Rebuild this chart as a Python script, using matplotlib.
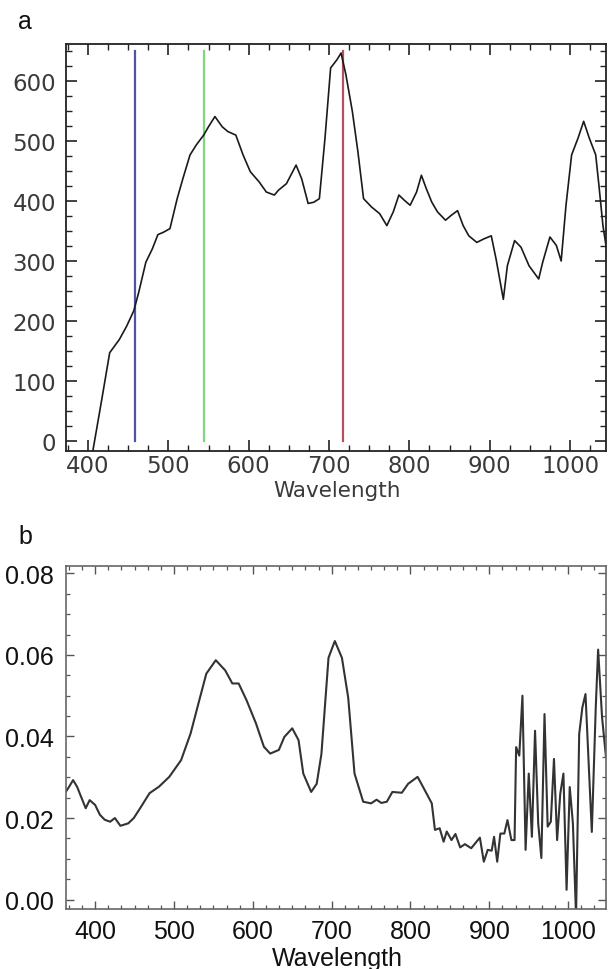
import numpy as np
import matplotlib
matplotlib.use("Agg")
import matplotlib.pyplot as plt
from matplotlib.ticker import MultipleLocator

# panel a: coarse spectrum with three band markers
wl_a = [406, 417, 427, 439, 448, 457, 463, 472, 480, 487, 494, 502, 511, 518, 527, 535,
        544, 550, 558, 567, 574, 584, 593, 602, 613, 622, 632, 637, 647, 659, 666, 674,
        681, 688, 695, 702, 710, 715, 721, 729, 736, 743, 753, 763, 772, 780, 787, 794,
        801, 809, 815, 821, 828, 835, 845, 852, 860, 867, 874, 884, 893, 902, 908, 917,
        922, 931, 939, 949, 961, 966, 975, 983, 989, 995, 1002, 1010, 1017, 1024, 1032,
        1036, 1041, 1046]
val_a = [-17, 68, 147, 169, 191, 217, 247, 298, 320, 344, 348, 354, 404, 437, 477, 494,
         510, 524, 541, 524, 516, 510, 477, 449, 432, 415, 410, 418, 429, 460, 437, 396,
         398, 404, 505, 622, 636, 647, 611, 550, 482, 404, 390, 379, 359, 382, 410, 401,
         393, 415, 443, 421, 398, 382, 368, 376, 384, 359, 342, 331, 337, 342, 303, 236,
         292, 334, 323, 292, 270, 298, 340, 326, 300, 393, 477, 505, 533, 505, 477,
         426, 359, 315]
band_wl = [458, 545, 717]
band_colors = ["#5252a3", "#7fd67f", "#b5505f"]
band_top = 650

# panel b: reflectance-like spectrum
wl_b = [363, 367, 372, 377, 383, 388, 393, 400, 406, 412, 419, 425, 432, 442, 449, 457,
        469, 481, 494, 509, 521, 531, 541, 553, 565, 574, 582, 592, 604, 614, 622, 633,
        640, 650, 658, 664, 674, 681, 687, 696, 704, 713, 721, 729, 740, 750, 757, 763,
        770, 777, 789, 797, 809, 816, 827, 831, 837, 842, 846, 852, 857, 863, 869, 877,
        888, 893, 898, 903, 906, 910, 914, 919, 923, 928, 932, 934, 938, 942, 946, 950,
        954, 958, 962, 966, 970, 974, 978, 982, 986, 990, 994, 998, 1002, 1006, 1010,
        1014, 1018, 1022, 1030, 1035, 1038, 1043, 1048]
val_b = [0.0265, 0.0277, 0.0293, 0.0277, 0.0248, 0.0224, 0.0244, 0.0232, 0.0208, 0.0196,
         0.0191, 0.0200, 0.0181, 0.0187, 0.0200, 0.0224, 0.0261, 0.0277, 0.0301, 0.0342,
         0.0407, 0.0481, 0.0554, 0.0587, 0.0562, 0.0530, 0.0530, 0.0489, 0.0432, 0.0375,
         0.0358, 0.0367, 0.0399, 0.0420, 0.0391, 0.0309, 0.0264, 0.0284, 0.0357, 0.0593,
         0.0634, 0.0593, 0.0495, 0.0309, 0.0240, 0.0236, 0.0245, 0.0237, 0.0240, 0.0264,
         0.0262, 0.0284, 0.0301, 0.0276, 0.0236, 0.0171, 0.0175, 0.0142, 0.0167, 0.0146,
         0.0161, 0.0128, 0.0136, 0.0126, 0.0152, 0.0093, 0.0122, 0.0120, 0.0154, 0.0093,
         0.0162, 0.0162, 0.0195, 0.0146, 0.0146, 0.0374, 0.0353, 0.0500, 0.0122, 0.0309,
         0.0154, 0.0414, 0.0187, 0.0102, 0.0455, 0.0179, 0.0191, 0.0345, 0.0146, 0.0260,
         0.0309, 0.0024, 0.0276, 0.0187, -0.0040, 0.0406, 0.0471, 0.0504, 0.0166, 0.0471,
         0.0613, 0.0447, 0.0349]

W, H = 609, 970
fig = plt.figure(figsize=(W / 100, H / 100), dpi=100)


def box(l, t, r, b):
    return [l / W, 1 - b / H, (r - l) / W, (b - t) / H]


# ---- panel a ----
ax1 = fig.add_axes(box(66, 45, 606, 452))
for x, c in zip(band_wl, band_colors):
    ax1.plot([x, x], [0, band_top], color=c, lw=1.6)
ax1.plot(wl_a, val_a, color="#1a1a1a", lw=1.2)
ax1.set_xlim(372.6, 1044.8)
ax1.set_ylim(-17, 662)
ax1.xaxis.set_major_locator(MultipleLocator(100))
ax1.xaxis.set_minor_locator(MultipleLocator(25))
ax1.yaxis.set_major_locator(MultipleLocator(100))
ax1.yaxis.set_minor_locator(MultipleLocator(25))
ax1.tick_params(which="both", direction="in", top=True, right=True, color="#222222")
ax1.tick_params(which="major", length=8, width=1.2)
ax1.tick_params(which="minor", length=4.5, width=1.0)
ax1.tick_params(axis="x", pad=2)
ax1.tick_params(axis="y", pad=7)
for lab in ax1.get_xticklabels() + ax1.get_yticklabels():
    lab.set_fontfamily("DejaVu Sans")
    lab.set_fontsize(16.5)
    lab.set_color("#3a3a3a")
for s in ax1.spines.values():
    s.set_linewidth(1.3)
    s.set_color("#222222")
fig.text(337 / W, 1 - 491 / H, "Wavelength", ha="center", va="center",
         fontsize=15.5, family="DejaVu Sans", color="#3a3a3a")
fig.text(25 / W, 1 - 22 / H, "a", ha="center", va="center", fontsize=18,
         family="Liberation Sans", color="#111111")

# ---- panel b ----
ax2 = fig.add_axes(box(66, 567, 606, 910))
ax2.plot(wl_b, val_b, color="#333333", lw=1.5)
ax2.set_xlim(363, 1048)
ax2.set_ylim(-0.0023, 0.0818)
ax2.xaxis.set_major_locator(MultipleLocator(100))
ax2.xaxis.set_minor_locator(MultipleLocator(100 / 6))
ax2.yaxis.set_major_locator(MultipleLocator(0.02))
ax2.yaxis.set_minor_locator(MultipleLocator(0.005))
ax2.yaxis.set_major_formatter(matplotlib.ticker.FormatStrFormatter("%.2f"))
ax2.tick_params(which="both", direction="in", top=True, right=True, color="#555555")
ax2.tick_params(which="major", length=6, width=1.0)
ax2.tick_params(which="minor", length=3, width=0.9)
ax2.tick_params(axis="x", pad=7)
ax2.tick_params(axis="y", pad=9)
for lab in ax2.get_xticklabels() + ax2.get_yticklabels():
    lab.set_fontfamily("Liberation Sans")
    lab.set_fontsize(18)
    lab.set_color("#111111")
for s in ax2.spines.values():
    s.set_linewidth(1.2)
    s.set_color("#666666")
fig.text(337 / W, 1 - 959 / H, "Wavelength", ha="center", va="center",
         fontsize=18, family="Liberation Sans", color="#111111")
fig.text(25 / W, 1 - 537 / H, "b", ha="center", va="center", fontsize=18,
         family="Liberation Sans", color="#111111")

fig.savefig("out.png", dpi=100)
